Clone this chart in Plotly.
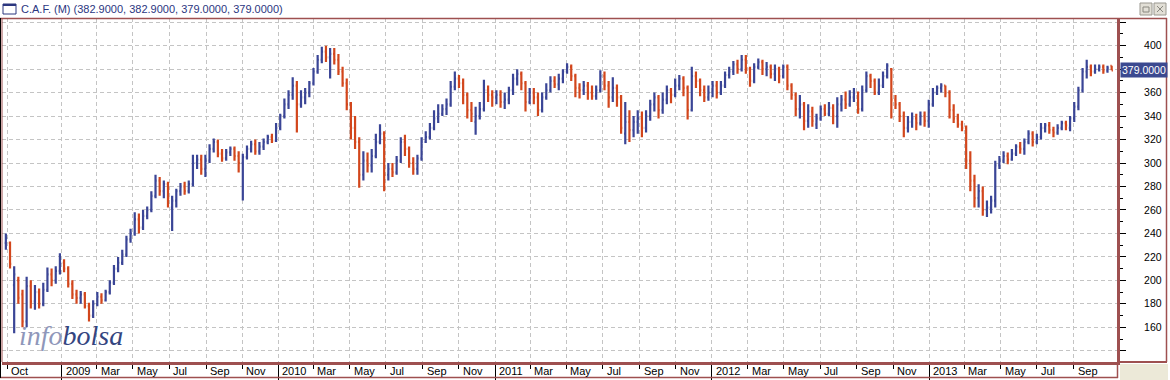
import pandas as pd
import plotly.graph_objects as go

W, H = 1170, 380

# ---------------- data (weekly bars) ----------------
week_start = "2008-09-29"
n_weeks = 267

open_ = [232,232,196,200,188,165,195,182,190,180,
         192,205,200,208,215,210,197,188,185,188,
         178,170,180,186,183,190,198,210,215,222,
         235,240,252,245,255,260,272,285,276,282,
         262,268,276,280,276,282,300,303,295,302,
         312,318,308,304,309,312,306,300,305,312,
         316,310,314,318,322,319,330,340,350,358,
         366,350,356,360,368,378,388,395,390,393,
         388,378,368,350,330,318,290,302,298,306,
         318,325,290,295,292,302,318,312,300,295,
         304,318,322,330,338,342,346,350,365,372,
         368,358,345,335,340,346,362,358,356,358,
         352,354,362,372,376,368,352,360,356,345,
         356,362,370,367,372,378,382,374,364,362,
         366,360,357,362,374,366,356,364,356,325,
         335,328,335,338,330,340,350,356,345,354,
         362,358,366,372,364,345,374,370,362,356,
         360,366,360,366,375,378,384,380,388,380,
         370,382,386,380,382,376,380,374,382,366,
         358,346,350,336,344,333,338,346,342,347,
         340,350,354,350,356,360,346,362,374,370,
         360,366,374,380,354,350,340,330,335,338,
         334,340,336,350,360,364,366,360,345,338,
         333,330,302,285,270,276,260,262,268,298,
         302,306,303,308,314,312,318,325,318,322,
         330,332,328,326,330,334,330,338,348,362,
         378,382,378,380,382,379,382.9]

high = [240,233,212,203,192,203,200,196,193,198,
        211,210,212,223,218,212,200,192,191,190,
        181,183,190,189,192,200,213,220,226,238,
        244,258,257,260,263,276,290,288,285,284,
        272,278,283,284,285,307,307,307,307,316,
        321,320,312,312,314,314,310,308,315,319,
        320,318,321,324,325,334,342,355,362,373,
        370,362,364,370,381,392,399,400,398,398,
        393,382,372,352,340,322,310,309,312,325,
        333,327,300,300,306,322,324,314,305,307,
        322,327,334,345,350,350,355,370,378,375,
        372,360,352,348,352,371,366,362,362,362,
        360,365,376,380,378,370,364,364,360,360,
        368,374,374,376,380,385,384,376,368,370,
        369,366,366,379,378,370,373,367,358,352,
        345,340,345,344,345,354,360,358,360,366,
        364,372,375,374,366,382,378,372,366,366,
        370,370,370,378,382,387,388,392,392,382,
        385,389,388,386,384,384,382,384,384,368,
        360,358,352,350,348,342,349,350,352,350,
        356,358,361,362,364,361,366,378,376,372,
        372,378,385,381,358,352,344,340,343,342,
        344,344,354,364,366,368,366,362,350,342,
        336,332,310,290,282,280,268,272,302,306,
        310,309,312,316,318,321,328,327,325,334,
        334,335,331,333,336,336,340,352,365,381,
        388,384,384,384,384,383,382.9]

low = [226,210,155,180,160,160,176,175,176,178,
       190,195,197,205,207,194,184,180,180,176,
       165,168,178,180,182,188,196,207,213,220,
       232,238,240,243,252,258,270,272,270,262,
       242,262,272,273,274,280,295,290,288,300,
       309,305,301,302,306,302,292,268,303,309,
       307,307,311,316,317,318,328,338,346,354,
       326,347,350,356,366,376,385,386,372,384,
       375,365,345,320,312,279,285,292,292,304,
       316,276,285,288,290,300,306,296,290,290,
       302,317,320,328,334,340,341,348,362,364,
       350,338,335,324,337,344,352,348,350,347,
       346,350,358,366,362,344,350,350,340,343,
       354,360,364,362,368,376,370,356,355,358,
       354,354,354,360,362,347,352,348,325,316,
       318,322,325,322,326,336,344,338,342,350,
       351,356,362,357,337,344,364,357,352,353,
       356,355,358,364,372,375,376,378,376,365,
       368,380,375,374,372,370,368,372,362,354,
       340,338,328,330,331,329,336,340,340,333,
       330,344,346,348,352,342,344,360,364,358,
       358,364,372,338,346,335,322,326,330,328,
       332,331,330,348,358,360,356,338,334,330,
       327,295,276,262,262,255,254,257,262,295,
       300,299,302,306,308,307,316,314,316,320,
       326,325,322,324,328,328,327,335,345,360,
       372,374,376,378,376,377,379]

close = [236,214,205,185,165,195,182,190,180,192,
         205,200,208,215,210,197,188,185,188,178,
         170,180,186,183,190,198,210,215,222,235,
         240,252,245,255,260,272,285,276,282,270,
         268,276,280,276,282,300,303,295,302,312,
         318,308,304,309,312,306,300,305,312,316,
         310,314,318,322,319,330,340,350,358,366,
         350,356,360,368,378,388,395,390,393,388,
         378,368,350,330,318,290,302,298,306,318,
         325,290,295,292,302,318,312,300,295,304,
         318,322,330,338,342,346,350,365,372,368,
         358,345,342,340,346,362,358,356,358,352,
         354,362,372,376,368,352,360,356,345,356,
         362,370,367,372,378,382,374,364,362,366,
         360,357,362,374,366,356,364,356,330,335,
         328,335,338,330,340,350,356,345,354,362,
         358,366,372,364,345,374,370,362,356,360,
         366,360,366,375,378,384,380,388,380,370,
         382,386,380,382,376,380,374,382,366,358,
         346,350,336,344,336,338,346,342,347,340,
         350,354,350,356,360,346,362,374,370,360,
         366,374,383,354,350,340,330,335,338,334,
         340,336,350,360,364,366,360,345,338,333,
         330,302,285,270,276,260,262,268,298,302,
         306,303,308,314,312,318,325,318,322,330,
         332,328,326,330,334,332,338,348,362,378,
         382,378,380,382,379,381,379]

month_ticks = ["2008-10-01", "2009-03-01", "2009-05-01", "2009-07-01", "2009-09-01", "2009-11-01",
               "2010-03-01", "2010-05-01", "2010-07-01", "2010-09-01", "2010-11-01",
               "2011-03-01", "2011-05-01", "2011-07-01", "2011-09-01", "2011-11-01",
               "2012-03-01", "2012-05-01", "2012-07-01", "2012-09-01", "2012-11-01",
               "2013-03-01", "2013-05-01", "2013-07-01", "2013-09-01"]
month_labels = ["Oct", "Mar", "May", "Jul", "Sep", "Nov",
                "Mar", "May", "Jul", "Sep", "Nov",
                "Mar", "May", "Jul", "Sep", "Nov",
                "Mar", "May", "Jul", "Sep", "Nov",
                "Mar", "May", "Jul", "Sep"]
year_ticks = ["2009-01-01", "2010-01-01", "2011-01-01", "2012-01-01", "2013-01-01"]
year_labels = ["2009", "2010", "2011", "2012", "2013"]

# 380 is hidden behind the last-price box in the reference
y_tickvals = [140, 160, 180, 200, 220, 240, 260, 280, 300, 320, 340, 360, 380, 400, 420]
y_ticktext = ["", "160", "180", "200", "220", "240", "260", "280", "300", "320", "340", "360", "", "400", ""]

title_text = "C.A.F. (M) (382.9000, 382.9000, 379.0000, 379.0000)"
last_price = 379.0
last_label = "379.0000"

# ---------------- styles ----------------
BLUE = "#3A4596"
RED = "#D2461C"
BROWN = "#9E5050"
NAVY = "#2B367F"
GRID = "#C4C4C4"
FONT = "Liberation Sans, Arial, sans-serif"

def px(x):
    return x / W

def py(y):
    return 1 - y / H

dates = pd.date_range(week_start, periods=n_weeks, freq="7D")

fig = go.Figure()
fig.add_trace(go.Ohlc(
    x=dates, open=open_, high=high, low=low, close=close,
    increasing=dict(line=dict(color=BLUE, width=2.2)),
    decreasing=dict(line=dict(color=RED, width=2.2)),
    tickwidth=0.3, hoverinfo="skip", showlegend=False,
))

x_left, x_right = 2, 1117
y_top, y_bot = 18, 362

fig.update_layout(
    width=W, height=H,
    margin=dict(l=0, r=0, t=0, b=0),
    paper_bgcolor="white", plot_bgcolor="white",
    showlegend=False,
    font=dict(family=FONT, size=11, color="black"),
    xaxis=dict(
        type="date",
        domain=[px(x_left), px(x_right)],
        range=["2008-09-22 12:00", "2013-11-13"],
        rangeslider=dict(visible=False),
        tickmode="array", tickvals=year_ticks, showticklabels=False,
        ticks="outside", ticklen=15, tickcolor="black", tickwidth=1,
        showgrid=True, gridcolor=GRID, griddash="4px,3px", gridwidth=1,
        minor=dict(tickmode="array", tickvals=month_ticks, ticks="outside", ticklen=4,
                   tickcolor="black", tickwidth=1, showgrid=True, gridcolor=GRID,
                   griddash="4px,3px", gridwidth=1),
        showline=True, linecolor=BROWN, linewidth=3,
        zeroline=False, fixedrange=True,
    ),
    yaxis=dict(
        domain=[py(y_bot), py(y_top)],
        range=[130.4, 423.6],
        side="right",
        tickmode="array", tickvals=y_tickvals, ticktext=y_ticktext,
        ticks="outside", ticklen=6, tickcolor="black", tickwidth=1,
        ticklabelstandoff=16,
        tickfont=dict(family=FONT, size=10.5, color="black"),
        minor=dict(dtick=10, tick0=130, ticks="outside", ticklen=3, tickcolor="black",
                   tickwidth=1, showgrid=False),
        showgrid=True, gridcolor=GRID, griddash="4px,3px", gridwidth=1,
        showline=True, linecolor=BROWN, linewidth=3,
        zeroline=False, fixedrange=True,
    ),
)

shapes = []
# right panel border and top line
shapes.append(dict(type="line", xref="paper", yref="paper", x0=0, x1=px(1167),
                   y0=py(18.5), y1=py(18.5), line=dict(color=BROWN, width=1.5)))
shapes.append(dict(type="line", xref="paper", yref="paper", x0=px(1166.5), x1=px(1166.5),
                   y0=py(18), y1=py(362), line=dict(color=BROWN, width=1.5)))
shapes.append(dict(type="line", xref="paper", yref="paper", x0=px(1117), x1=px(1167),
                   y0=py(362), y1=py(362), line=dict(color=BROWN, width=2)))
# x label row box
shapes.append(dict(type="line", xref="paper", yref="paper", x0=0, x1=px(1118),
                   y0=py(377.5), y1=py(377.5), line=dict(color=BROWN, width=1.5)))
shapes.append(dict(type="line", xref="paper", yref="paper", x0=px(1117.5), x1=px(1117.5),
                   y0=py(362), y1=py(378), line=dict(color=BROWN, width=1.5)))
# beige corner
shapes.append(dict(type="rect", xref="paper", yref="paper", x0=px(1120), x1=px(1168),
                   y0=0, y1=py(364), fillcolor="#ECE9D8", line=dict(width=0), layer="below"))
# left border
shapes.append(dict(type="line", xref="paper", yref="paper", x0=px(0.5), x1=px(0.5),
                   y0=py(18), y1=py(378), line=dict(color="black", width=1)))
shapes.append(dict(type="line", xref="paper", yref="paper", x0=px(2), x1=px(2),
                   y0=py(18), y1=py(362), line=dict(color=BROWN, width=1)))
# title icon
shapes.append(dict(type="rect", xref="paper", yref="paper", x0=px(3), x1=px(16),
                   y0=py(14), y1=py(4), line=dict(color=NAVY, width=1), fillcolor="white"))
shapes.append(dict(type="line", xref="paper", yref="paper", x0=px(3), x1=px(16),
                   y0=py(5), y1=py(5), line=dict(color=NAVY, width=2)))
# window buttons
for bx in (1140, 1154):
    shapes.append(dict(type="rect", xref="paper", yref="paper", x0=px(bx), x1=px(bx + 12),
                       y0=py(15), y1=py(3), fillcolor="#E2DFD6", line=dict(color="#9A9890", width=1)))
shapes.append(dict(type="rect", xref="paper", yref="paper", x0=px(1143), x1=px(1149),
                   y0=py(12), y1=py(7), line=dict(color="#8A8880", width=1)))
shapes.append(dict(type="line", xref="paper", yref="paper", x0=px(1157), x1=px(1163),
                   y0=py(6), y1=py(12), line=dict(color="#8A8880", width=1)))
shapes.append(dict(type="line", xref="paper", yref="paper", x0=px(1157), x1=px(1163),
                   y0=py(12), y1=py(6), line=dict(color="#8A8880", width=1)))
fig.update_layout(shapes=shapes)

ann = []
ann.append(dict(text=title_text, xref="paper", yref="paper", x=px(19), y=py(8.5),
                xanchor="left", yanchor="middle", showarrow=False,
                font=dict(family=FONT, size=11, color=NAVY)))
# last price box
ann.append(dict(text=last_label, xref="paper", yref="y", x=px(1120), y=last_price,
                xanchor="left", yanchor="middle", showarrow=False,
                bgcolor="#3B4990", borderpad=1,
                font=dict(family=FONT, size=10.5, color="white")))
# x labels
for d, t in list(zip(month_ticks, month_labels)) + list(zip(year_ticks, year_labels)):
    ann.append(dict(text=t, xref="x", yref="paper", x=d, y=py(370.5), xshift=2,
                    xanchor="left", yanchor="middle", showarrow=False,
                    font=dict(family=FONT, size=11, color="black")))
# logo
ann.append(dict(text='<i><span style="color:#8F97BA">info</span><span style="color:#34457F">bolsa</span></i>',
                xref="paper", yref="paper", x=px(17), y=py(335), xanchor="left", yanchor="middle",
                showarrow=False, font=dict(family="Liberation Serif, serif", size=28, color="#34457F")))
fig.update_layout(annotations=ann)

fig.write_html("out.html")
